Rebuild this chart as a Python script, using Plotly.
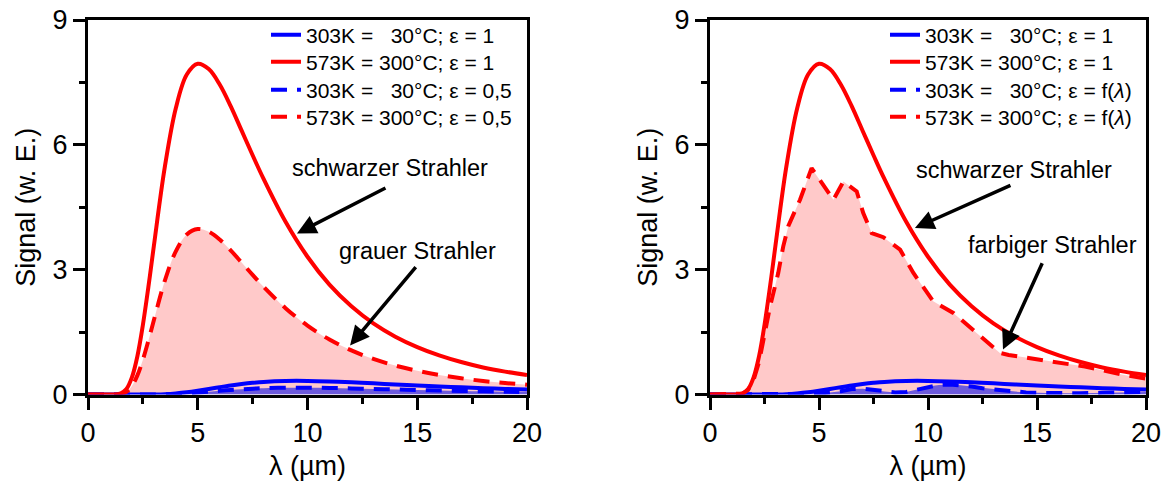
import plotly.graph_objects as go

FONT = "Liberation Sans, Arial, sans-serif"

# ---------------- data ----------------
lam = [0, 0.5, 1, 1.25, 1.5, 1.75, 2, 2.25, 2.5, 2.75, 3, 3.5, 4, 4.5, 5, 5.5, 6, 6.5,
       7, 7.5, 8, 9, 10, 11, 12, 13, 14, 15, 16, 17, 18, 19, 20]
red_bb = [0, 0, 0, 0, 0.03, 0.13, 0.41, 0.92, 1.67, 2.58, 3.57, 5.47, 6.88, 7.69, 7.95,
          7.82, 7.45, 6.93, 6.34, 5.75, 5.18, 4.15, 3.31, 2.64, 2.12, 1.71, 1.39, 1.14,
          0.94, 0.78, 0.65, 0.55, 0.47]
blue_bb = [0, 0, 0, 0, 0, 0, 0, 0, 0, 0, 0.002, 0.009, 0.026, 0.053, 0.09, 0.132, 0.176,
           0.217, 0.252, 0.281, 0.303, 0.326, 0.327, 0.314, 0.293, 0.268, 0.242, 0.217,
           0.194, 0.172, 0.153, 0.135, 0.12]
red_grey = [0, 0, 0, 0, 0.015, 0.065, 0.205, 0.46, 0.835, 1.29, 1.785, 2.735, 3.44, 3.845,
            3.975, 3.91, 3.725, 3.465, 3.17, 2.875, 2.59, 2.075, 1.655, 1.32, 1.06, 0.855,
            0.695, 0.57, 0.47, 0.39, 0.325, 0.275, 0.235]
blue_grey = [0, 0, 0, 0, 0, 0, 0, 0, 0, 0, 0.001, 0.0045, 0.013, 0.0265, 0.045, 0.066,
             0.088, 0.1085, 0.126, 0.1405, 0.1515, 0.163, 0.1635, 0.157, 0.1465, 0.134,
             0.121, 0.1085, 0.097, 0.086, 0.0765, 0.0675, 0.06]

lam_red_col = [0, 1, 1.5, 1.75, 2, 2.25, 2.5, 2.75, 3.13, 3.36, 3.6, 4.13, 4.66, 5.12,
               5.66, 6.12, 6.73, 7.03, 7.42, 7.95, 8.72, 9.33, 10.24, 11.16, 12.39, 13.3,
               13.7, 15.1, 17.2, 19, 20]
red_col = [0, 0, 0.02, 0.11, 0.35, 0.78, 1.4, 2.1, 2.92, 3.56, 4.06, 4.68, 5.44, 5.08,
           4.68, 5.12, 4.88, 4.36, 3.88, 3.78, 3.48, 2.92, 2.24, 1.96, 1.4, 1.0, 0.95,
           0.84, 0.67, 0.47, 0.38]
lam_blue_col = [0, 4, 5, 6, 6.5, 7, 7.5, 8, 8.5, 9, 9.5, 10, 10.5, 11, 11.5, 12, 12.5,
                13, 13.5, 14, 14.5, 15, 16, 17, 18, 19, 20]
blue_col = [0, 0, 0.02, 0.08, 0.13, 0.14, 0.11, 0.07, 0.05, 0.06, 0.12, 0.19, 0.23, 0.24,
            0.22, 0.19, 0.15, 0.12, 0.1, 0.07, 0.05, 0.04, 0.03, 0.03, 0.04, 0.05, 0.06]

NB = "\u00a0"
names_left = ["303K =" + NB * 3 + "30°C; ε = 1", "573K = 300°C; ε = 1",
              "303K =" + NB * 3 + "30°C; ε = 0,5", "573K = 300°C; ε = 0,5"]
names_right = ["303K =" + NB * 3 + "30°C; ε = 1", "573K = 300°C; ε = 1",
               "303K =" + NB * 3 + "30°C; ε = f(<i>λ</i>)", "573K = 300°C; ε = f(<i>λ</i>)"]

RED = "#ff0000"
BLUE = "#0000ff"
PINK_FILL = "rgba(255,0,0,0.21)"
BLUE_FILL = "rgba(30,30,230,0.65)"
LW = 4
DASH = "16px,10px"

W, H = 1170, 483
fig = go.Figure()

panels = [
    ("x", "y", ["legend", "legend2", "legend3", "legend4"], names_left,
     lam, red_grey, lam, blue_grey, "spline"),
    ("x2", "y2", ["legend5", "legend6", "legend7", "legend8"], names_right,
     lam_red_col, red_col, lam_blue_col, blue_col, "linear"),
]

for xa, ya, lgs, names, xr, yr, xb, yb, shp in panels:
    # fills first
    fig.add_trace(go.Scatter(x=xr, y=yr, xaxis=xa, yaxis=ya, mode="lines",
                             line=dict(width=0, shape=shp), fill="tozeroy",
                             fillcolor=PINK_FILL, showlegend=False, hoverinfo="skip"))
    fig.add_trace(go.Scatter(x=xb, y=yb, xaxis=xa, yaxis=ya, mode="lines",
                             line=dict(width=0, shape=shp), fill="tozeroy",
                             fillcolor=BLUE_FILL, showlegend=False, hoverinfo="skip"))
    # lines
    fig.add_trace(go.Scatter(x=lam, y=blue_bb, xaxis=xa, yaxis=ya, mode="lines",
                             line=dict(color=BLUE, width=LW, shape="spline"),
                             name=names[0], legend=lgs[0]))
    fig.add_trace(go.Scatter(x=lam, y=red_bb, xaxis=xa, yaxis=ya, mode="lines",
                             line=dict(color=RED, width=LW, shape="spline"),
                             name=names[1], legend=lgs[1]))
    fig.add_trace(go.Scatter(x=xb, y=yb, xaxis=xa, yaxis=ya, mode="lines",
                             line=dict(color=BLUE, width=LW, dash=DASH, shape=shp),
                             name=names[2], legend=lgs[2]))
    fig.add_trace(go.Scatter(x=xr, y=yr, xaxis=xa, yaxis=ya, mode="lines",
                             line=dict(color=RED, width=LW, dash=DASH, shape=shp),
                             name=names[3], legend=lgs[3]))

TICK_FONT = dict(size=27, color="black", family=FONT)
axis_common = dict(showline=True, linecolor="black", linewidth=3, mirror=True,
                   ticks="outside", ticklen=12, tickwidth=3, tickcolor="black",
                   showgrid=False, zeroline=False, layer="below traces",
                   tickfont=TICK_FONT)

xdom1 = [88 / W, 527 / W]
xdom2 = [710 / W, 1146 / W]
ydom = [1 - 394.5 / H, 1 - 20 / H]

xa_common = dict(axis_common, range=[0, 20], tickvals=[0, 5, 10, 15, 20],
                 minor=dict(dtick=2.5, tick0=0, ticklen=6, tickwidth=3, tickcolor="black", ticks="outside"),
                 title=dict(text="λ (µm)", font=TICK_FONT, standoff=10))
ya_common = dict(axis_common, range=[0, 9], tickvals=[0, 3, 6, 9],
                 minor=dict(dtick=1.5, tick0=0, ticklen=6, tickwidth=3, tickcolor="black", ticks="outside"),
                 title=dict(text="Signal (w. E.)", font=TICK_FONT, standoff=10))

legend_common = dict(font=dict(size=21, color="black", family=FONT), bgcolor="rgba(0,0,0,0)",
                     xanchor="left", yanchor="middle", itemwidth=30)

row_y = [35, 62, 90, 117]
legends = {}
for i in range(4):
    legends["legend" if i == 0 else "legend%d" % (i + 1)] = dict(
        legend_common, x=266 / W, y=1 - row_y[i] / H)
    legends["legend%d" % (i + 5)] = dict(legend_common, x=885 / W, y=1 - row_y[i] / H)

ann_font = dict(size=23.5, color="black", family=FONT)


def arrow(xref, yref, x, y, ax, ay):
    return dict(xref=xref, yref=yref, axref=xref, ayref=yref, x=x, y=y, ax=ax, ay=ay,
                text="", showarrow=True, arrowhead=2, arrowsize=1.1, arrowwidth=3.5,
                arrowcolor="black", standoff=0, startstandoff=0)


def label(xref, yref, x, y, t):
    return dict(xref=xref, yref=yref, x=x, y=y, text=t, showarrow=False, font=ann_font,
                xanchor="center", yanchor="middle")


annotations = [
    label("x", "y", 13.76, 5.44, "schwarzer Strahler"),
    arrow("x", "y", 9.52, 3.87, 13.62, 4.98),
    label("x", "y", 15.0, 3.46, "grauer Strahler"),
    arrow("x", "y", 11.94, 1.18, 14.99, 3.10),
    label("x2", "y2", 13.94, 5.4, "schwarzer Strahler"),
    arrow("x2", "y2", 9.4, 4.0, 13.85, 5.04),
    label("x2", "y2", 15.69, 3.6, "farbiger Strahler"),
    arrow("x2", "y2", 13.44, 1.08, 15.27, 3.19),
]

fig.update_layout(
    width=W, height=H,
    margin=dict(l=0, r=0, t=0, b=0, autoexpand=False),
    paper_bgcolor="white", plot_bgcolor="white",
    font=dict(family=FONT, color="black"),
    xaxis=dict(xa_common, domain=xdom1, anchor="y"),
    yaxis=dict(ya_common, domain=ydom, anchor="x"),
    xaxis2=dict(xa_common, domain=xdom2, anchor="y2"),
    yaxis2=dict(ya_common, domain=ydom, anchor="x2"),
    annotations=annotations,
    showlegend=True,
    **legends,
)

fig.write_html(
    "out.html",
    config={"displayModeBar": False},
    post_script="document.body.style.margin='0';document.body.style.overflow='hidden';",
)
